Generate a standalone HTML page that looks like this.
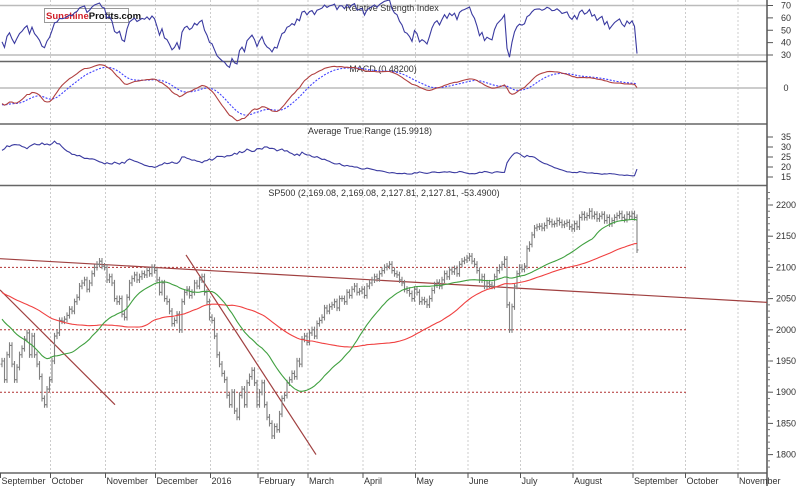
<!DOCTYPE html>
<html><head><meta charset="utf-8">
<style>
html,body{margin:0;padding:0;background:#fff;}
body{width:800px;height:486px;overflow:hidden;font-family:"Liberation Sans",sans-serif;}
svg{display:block}
text{font-family:"Liberation Sans",sans-serif;font-size:9px;fill:#333;}
</style></head>
<body>
<svg id="chart" width="800" height="486" viewBox="0 0 800 486" xmlns="http://www.w3.org/2000/svg"></svg>
<script>
// ---- data ----
const priorCloses = [2105,2108,2110,2100,2095,2102,2110,2115,2108,2105,2098,2092,2100,2108,2112,2120,2115,2110,2105,2095,
2080,2075,2085,2095,2100,2105,2110,2108,2100,2095,2090,2085,2098,2102,2110,2115,2120,2112,2105,2100,
2095,2090,2088,2100,2108,2105,2100,2095,2098,2102,2105,2100,2095,2090,2085,2088,2092,2095,2100,2098,
2090,2082,2079,2080,2085,2090,2095,2100,2095,2085,2080,2075,2070,2060,2075,2080,2085,2082,2090,2095,
2070,2050,1990,1970,1895,1870,1940,1990,1985,1970,1990,1995,2005,1990,1960,1950,1955,1980,1985,1945];
const closes = [1950,1920,1960,1975,1945,1920,1940,1960,1970,1985,1995,1960,1990,1960,1945,1925,
1890,1880,1905,1920,1950,1990,1995,2015,2014,2017,2023,2033,2030,2045,2052,2070,
2075,2080,2065,2075,2090,2100,2105,2110,2102,2100,2080,2085,2075,2050,2045,2050,
2025,2020,2052,2075,2082,2088,2080,2085,2090,2088,2095,2090,2100,2095,2080,2060,
2075,2050,2045,2030,2010,2015,2025,2000,2045,2060,2065,2055,2060,2075,2070,2080,
2085,2060,2045,2020,2015,1990,1960,1945,1930,1920,1895,1880,1900,1870,1860,1895,
1905,1880,1915,1925,1935,1915,1880,1900,1915,1880,1860,1850,1830,1845,1840,1865,
1890,1895,1915,1920,1930,1925,1950,1945,1985,1990,1980,1995,2000,1990,2010,2015,
2020,2035,2030,2037,2040,2045,2035,2050,2050,2045,2060,2055,2065,2070,2060,2062,
2065,2055,2070,2075,2080,2085,2082,2090,2095,2100,2102,2105,2095,2090,2088,2080,
2075,2065,2063,2058,2050,2065,2060,2045,2048,2045,2040,2050,2063,2072,2076,2070,
2080,2090,2085,2096,2093,2098,2090,2105,2110,2112,2115,2118,2110,2105,2095,2080,
2085,2070,2075,2072,2070,2085,2095,2100,2105,2113,2040,2000,2037,2070,2090,2100,
2097,2102,2130,2137,2152,2163,2165,2166,2163,2167,2175,2173,2169,2170,2175,2172,
2168,2170,2172,2165,2162,2170,2165,2180,2185,2180,2183,2190,2182,2185,2178,2182,
2185,2175,2180,2170,2175,2180,2183,2186,2180,2177,2185,2182,2186,2180,2128];
const wick = 5;
const monthLabels = ["September","October","November","December","2016","February","March","April","May","June","July","August","September","October","November"];
const monthBarIdx = [-1,19,41,61,83,102,122,144,165,186,207,228,252,273,294];
const priceTicks = [2200,2150,2100,2050,2000,1950,1900,1850,1800];
const rsiTicks = [70,60,50,40,30];
const atrTicks = [35,30,25,20,15];
const supportLevels = [2100,2000,1900];
const fastPeriod = 35;
const slowPeriod = 75;
// trend lines: [barIndexStart, priceStart, barIndexEnd, priceEnd]
const trendLines = [[-0.8,2114,306,2044],[-0.8,2064,45.2,1880],[73.6,2120,125.6,1800]];

// ---- scales ----
const X = i => 2 + i*2.5;
const PY = p => 205 + (2200-p)*0.624;
const RY = v => 5.5 + (70-v)*(49.5/40);
const MY = v => 88 - v*0.68;
const AY = v => 137 + (35-v)*2;

const svg = document.getElementById('chart');
const NS = 'http://www.w3.org/2000/svg';
function mk(tag, attrs, parent){const e=document.createElementNS(NS,tag);for(const k in attrs)e.setAttribute(k,attrs[k]);(parent||svg).appendChild(e);return e;}

const all = priorCloses.concat(closes);
const P = priorCloses.length;
function sma(n,i){let s=0;for(let k=i-n+1;k<=i;k++)s+=all[k];return s/n;}
function emaArr(arr,n){const a=2/(n+1);const out=[arr[0]];for(let i=1;i<arr.length;i++)out.push(arr[i]*a+out[i-1]*(1-a));return out;}
const e12=emaArr(all,12), e26=emaArr(all,26);
const macd=all.map((v,i)=>e12[i]-e26[i]);
const sig=emaArr(macd,9);
const rsi=[];{let g=0,l=0;for(let i=1;i<all.length;i++){const d=all[i]-all[i-1];const up=Math.max(d,0),dn=Math.max(-d,0);if(i<=14){g+=up/14;l+=dn/14;}else{g=(g*13+up)/14;l=(l*13+dn)/14;}rsi[i]=l===0?100:100-100/(1+g/l);}}
const atr=[];{let a=null;for(let i=1;i<all.length;i++){const o=all[i-1],c=all[i];const h=Math.max(o,c)+wick,lo=Math.min(o,c)-wick;const tr=Math.max(h-lo,Math.abs(h-all[i-1]),Math.abs(lo-all[i-1]));a=a===null?tr:(a*13+tr)/14;atr[i]=a;}}

monthBarIdx.forEach((b,k)=>{
  if(k===0) return;
  const x=X(b)+1;
  const g=mk('line',{x1:x,y1:0,x2:x,y2:473,stroke:'#ccc','stroke-dasharray':'2,2','stroke-width':1});
  
  
});
[[0,5.5,767,5.5,'#bbb',1.5,'rsi-70-line'],[0,55,767,55,'#bbb',1.5,'rsi-30-line'],[0,88,767,88,'#bbb',1.5,'macd-zero-line'],
 [0,61.5,767,61.5,'#666',1.5,'panel-separator'],[0,124,767,124,'#666',1.5,'panel-separator'],[0,185.5,767,185.5,'#666',1.5,'panel-separator'],
 [0,473,767,473,'#666',1.5,'x-axis-line'],[767,0,767,486,'#555',1.5,'y-axis-line']].forEach(a=>{
  const l=mk('line',{x1:a[0],y1:a[1],x2:a[2],y2:a[3],stroke:a[4],'stroke-width':a[5]});
  
  
});

[["Relative Strength Index",392,11,'rsi-title'],["MACD (0.48200)",383,72,'macd-title'],["Average True Range (15.9918)",370,134,'atr-title'],
 ["SP500 (2,169.08, 2,169.08, 2,127.81, 2,127.81, -53.4900)",384,196,'price-title']].forEach(t=>{
  const e=mk('text',{x:t[1],y:t[2],'text-anchor':'middle'});e.textContent=t[0];
  
  
});

const lg=mk('g',{});


mk('rect',{x:44.5,y:8.5,width:84,height:14,fill:'#fff',stroke:'#999'},lg);
const lt=mk('text',{x:46,y:19,style:'font-size:9.5px;font-weight:bold'},lg);
lt.innerHTML='<tspan style="fill:#d0202a">Sunshine</tspan><tspan style="fill:#111">Profits.com</tspan>';

supportLevels.forEach(p=>{
  const l=mk('line',{x1:0,y1:PY(p),x2:688,y2:PY(p),stroke:'#b03030','stroke-dasharray':'2,2','stroke-width':1});
  
  
});
trendLines.forEach(t=>{
  const l=mk('line',{x1:X(t[0]),y1:PY(t[1]),x2:X(t[2]),y2:PY(t[3]),stroke:'#a04040','stroke-width':1.2});
  
  
});

closes.forEach((c,i)=>{
  const o=all[P+i-1];const x=X(i);
  const h=Math.max(o,c)+wick, lo=Math.min(o,c)-wick;
  const g=mk('path',{d:`M${x},${PY(h)}V${PY(lo)}M${x-1.5},${PY(o)}H${x}M${x},${PY(c)}H${x+1.5}`,stroke:'#808080','stroke-width':1.1,fill:'none'});
  
  
});
function series(fn,stroke,name,dash){
  let d='';closes.forEach((c,i)=>{const v=fn(P+i);d+=(i?'L':'M')+X(i).toFixed(1)+','+v.toFixed(1);});
  const p=mk('path',{d:d,stroke:stroke,fill:'none','stroke-width':1.1});
  if(dash)p.setAttribute('stroke-dasharray',dash);
  
  
}
series(i=>PY(sma(slowPeriod,i)),'#f04040','slow-sma-line');
series(i=>PY(sma(fastPeriod,i)),'#40a040','fast-sma-line');
series(i=>Math.max(0,RY(rsi[i])),'#3a3aa0','rsi-line');
series(i=>MY(sig[i]),'#4040ff','macd-signal-line','2,1.5');
series(i=>MY(macd[i]),'#b04040','macd-line');
series(i=>AY(atr[i]),'#3a3aa0','atr-line');

function axis(ticks,fy,name){ticks.forEach(v=>{
  const t=mk('text',{x:786,y:fy(v)+3,'text-anchor':'middle'});t.textContent=v;
  
  
  mk('line',{x1:767,y1:fy(v),x2:773,y2:fy(v),stroke:'#555'});
});}
axis(priceTicks,PY,'price-axis-label');
axis(rsiTicks,RY,'rsi-axis-label');
axis(atrTicks,AY,'atr-axis-label');
const z=mk('text',{x:786,y:91,'text-anchor':'middle'});z.textContent='0';


for(let p=1780;p<=2220;p+=10){mk('line',{x1:767,y1:PY(p),x2:770,y2:PY(p),stroke:'#777'});}

monthLabels.forEach((m,k)=>{
  const x=Math.max(1,X(monthBarIdx[k])+2);
  const t=mk('text',{x:x,y:484});t.textContent=m;
  
  
  mk('line',{x1:x-1,y1:473,x2:x-1,y2:478,stroke:'#555'});
});
</script>
</body></html>
